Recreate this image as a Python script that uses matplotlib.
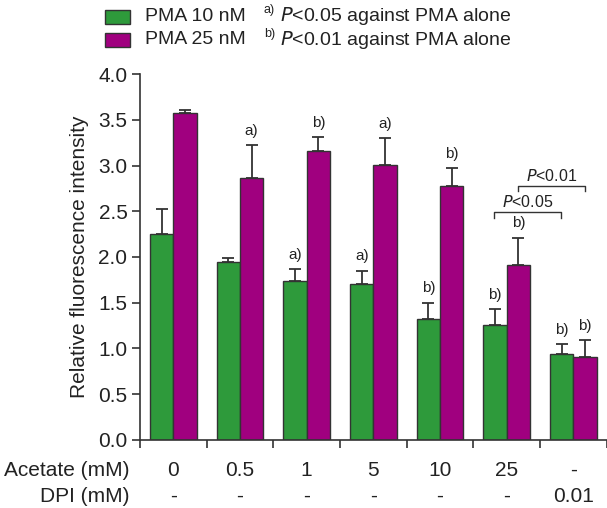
import numpy as np
import matplotlib
matplotlib.use("Agg")
import matplotlib.pyplot as plt
from matplotlib.patches import Rectangle

plt.rcParams['font.family'] = ['Liberation Sans', 'DejaVu Sans']

# data
acetate = ["0", "0.5", "1", "5", "10", "25", "-"]
dpi = ["-", "-", "-", "-", "-", "-", "0.01"]
pma10 = [2.25, 1.94, 1.74, 1.70, 1.32, 1.26, 0.94]
pma10_err = [0.27, 0.05, 0.13, 0.15, 0.18, 0.17, 0.11]
pma25 = [3.57, 2.86, 3.16, 3.01, 2.78, 1.91, 0.91]
pma25_err = [0.04, 0.36, 0.15, 0.29, 0.19, 0.30, 0.18]
sig10 = ["", "", "a)", "a)", "b)", "b)", "b)"]
sig25 = ["", "a)", "b)", "a)", "b)", "b)", "b)"]

green = "#2e9a3b"
purple = "#a0007f"
edge = "#333333"
txt = "#222222"

fig = plt.figure(figsize=(6.07, 5.08), dpi=100)
ax = fig.add_axes([0.2306, 0.1339, 0.769, 0.7204])

x = np.arange(len(acetate))
w = 0.35
ax.bar(x - w/2, pma10, w, color=green, edgecolor=edge, linewidth=1.0, zorder=2)
ax.bar(x + w/2, pma25, w, color=purple, edgecolor=edge, linewidth=1.0, zorder=2)
eb_kw = dict(fmt="none", ecolor=edge, elinewidth=1.3, capsize=4.5, capthick=1.3, zorder=1)
ax.errorbar(x - w/2, pma10, yerr=[np.zeros(len(x)), pma10_err], **eb_kw)
ax.errorbar(x + w/2, pma25, yerr=[np.zeros(len(x)), pma25_err], **eb_kw)

for i in range(len(x)):
    if sig10[i]:
        ax.text(x[i] - w/2, pma10[i] + pma10_err[i] + 0.08, sig10[i], ha="center", va="bottom", fontsize=11, color=txt)
    if sig25[i]:
        ax.text(x[i] + w/2, pma25[i] + pma25_err[i] + 0.08, sig25[i], ha="center", va="bottom", fontsize=11, color=txt)

# comparison brackets
def bracket(x0, x1, y, label):
    ax.plot([x0, x0, x1, x1], [y - 0.06, y, y, y - 0.06], color=edge, lw=1.0, clip_on=False)
    ax.text((x0 + x1) / 2, y + 0.02, label, ha="center", va="bottom", fontsize=11.5, color=txt)

bracket(4.81, 5.81, 2.49, r"$P$<0.05")
bracket(5.17, 6.17, 2.78, r"$P$<0.01")

ax.set_xlim(-0.5, 6.5)
ax.set_ylim(0, 4.0)
ax.set_yticks(np.arange(0, 4.01, 0.5))
ax.set_yticklabels([f"{v:.1f}" for v in np.arange(0, 4.01, 0.5)], fontsize=15, color=txt)
ax.set_xticks(np.arange(-0.5, 6.51, 1.0))
ax.set_xticklabels([])
ax.tick_params(axis="both", direction="out", length=6, width=1.2, color=edge, pad=3)
ax.set_ylabel("Relative fluorescence intensity", fontsize=15, color=txt, labelpad=7)
for s in ["top", "right"]:
    ax.spines[s].set_visible(False)
for s in ["left", "bottom"]:
    ax.spines[s].set_linewidth(1.2)
    ax.spines[s].set_color(edge)

# row labels under the axis
for i in range(len(x)):
    ax.text(x[i], -0.33, acetate[i], ha="center", va="center", fontsize=15, color=txt, clip_on=False)
    ax.text(x[i], -0.62, dpi[i], ha="center", va="center", fontsize=15, color=txt, clip_on=False)
fig.text(129/607, 1 - 470/508, "Acetate (mM)", ha="right", va="center", fontsize=15, color=txt)
fig.text(129/607, 1 - 497/508, "DPI (mM)", ha="right", va="center", fontsize=15, color=txt)

# legend drawn by hand
for yy, col, lab in [(16.5, green, "PMA 10 nM"), (40, purple, "PMA 25 nM")]:
    fig.patches.append(Rectangle((105/607, 1 - (yy + 7)/508), 25/607, 14/508,
                                 transform=fig.transFigure, facecolor=col, edgecolor=edge, lw=1.0))
    fig.text(145/607, 1 - yy/508, lab, ha="left", va="center", fontsize=14, color=txt)
fig.text(264/607, 1 - 10/508, "a)", ha="left", va="center", fontsize=9, color=txt)
fig.text(280/607, 1 - 16.5/508, r"$P$<0.05 against PMA alone", ha="left", va="center", fontsize=14, color=txt)
fig.text(264/607, 1 - 34/508, "b)", ha="left", va="center", fontsize=9, color=txt)
fig.text(280/607, 1 - 40/508, r"$P$<0.01 against PMA alone", ha="left", va="center", fontsize=14, color=txt)

fig.savefig("out.png", dpi=100)
